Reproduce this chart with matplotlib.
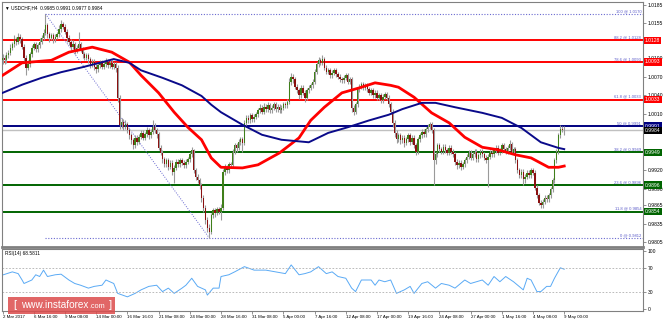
import numpy as np
import matplotlib.pyplot as plt
from matplotlib.patches import Rectangle

plt.rcParams['font.family'] = ['Liberation Sans', 'DejaVu Sans']

# USDCHF H4 candles, prices stored as pips above BASE
BASE = 0.9800
open0_pips = 296
close_pips = [
    300, 296, 304, 308, 316, 322, 330, 326, 334, 330,
    318, 300, 284, 290, 306, 316, 322, 314, 320, 326,
    332, 340, 352, 338, 332, 336, 330, 334, 338, 346,
    354, 350, 342, 332, 326, 318, 322, 312, 316, 322,
    314, 306, 300, 304, 298, 290, 294, 286, 282, 288,
    292, 286, 290, 294, 288, 292, 286, 290, 284, 236,
    192, 198, 190, 194, 184, 176, 168, 160, 172, 166,
    174, 180, 172, 178, 184, 176, 182, 190, 184, 178,
    156, 148, 138, 130, 136, 126, 132, 118, 124, 134,
    130, 136, 132, 128, 134, 138, 146, 152, 120, 110,
    104, 96, 76, 60, 40, 28, 22, 48, 56, 52,
    58, 54, 60, 118, 124, 120, 130, 128, 150, 160,
    156, 166, 170, 164, 196, 204, 200, 208, 202, 206,
    210, 216, 220, 214, 222, 218, 224, 216, 220, 226,
    218, 222, 216, 220, 226, 224, 230, 262, 270, 266,
    254, 248, 240, 252, 244, 236, 248, 252, 256, 262,
    278, 290, 296, 292, 298, 284, 278, 280, 272, 276,
    280, 274, 270, 266, 264, 268, 272, 262, 266, 220,
    214, 226, 250, 254, 258, 252, 256, 250, 244, 248,
    240, 244, 236, 240, 232, 238, 242, 236, 226, 214,
    196, 180, 170, 176, 168, 172, 164, 170, 176, 166,
    172, 160, 150, 170, 176, 182, 178, 186, 190, 194,
    184, 136, 146, 160, 154, 150, 158, 152, 148, 156,
    150, 146, 134, 128, 132, 126, 130, 136, 142, 148,
    140, 146, 150, 138, 144, 150, 146, 140, 136, 142,
    148, 146, 152, 156, 148, 152, 160, 154, 150, 156,
    162, 150, 154, 136, 120, 112, 118, 106, 110, 116,
    112, 120, 116, 92, 80, 68, 64, 70, 76, 74,
    80, 90, 104, 136, 150, 176, 186, 185, 184,
]
high_pips = [
    306, 304, 310, 312, 322, 326, 336, 334, 340, 338,
    334, 322, 304, 296, 310, 320, 326, 326, 324, 332,
    336, 346, 370, 356, 342, 340, 340, 338, 342, 352,
    360, 358, 354, 346, 336, 330, 328, 326, 320, 341,
    326, 318, 310, 308, 308, 302, 298, 298, 290, 294,
    296, 296, 294, 300, 298, 296, 296, 294, 294, 288,
    240, 204, 202, 200, 198, 188, 180, 172, 176, 176,
    178, 184, 184, 182, 190, 188, 186, 200, 196, 188,
    182, 160, 152, 142, 140, 140, 136, 136, 128, 138,
    138, 140, 140, 136, 138, 142, 150, 157, 154, 124,
    114, 108, 100, 80, 64, 46, 34, 52, 60, 60,
    62, 62, 66, 122, 130, 128, 134, 134, 154, 164,
    164, 170, 174, 174, 200, 208, 208, 212, 212, 210,
    214, 220, 226, 224, 228, 226, 230, 228, 224, 230,
    230, 226, 226, 224, 230, 230, 234, 268, 276, 274,
    270, 258, 252, 256, 256, 248, 252, 256, 260, 266,
    282, 294, 302, 300, 304, 302, 288, 284, 284, 280,
    284, 284, 278, 274, 270, 272, 276, 276, 270, 270,
    224, 230, 254, 258, 262, 262, 260, 260, 254, 252,
    252, 248, 248, 244, 244, 242, 246, 246, 240, 230,
    218, 200, 184, 180, 180, 176, 176, 174, 180, 180,
    176, 176, 164, 174, 180, 186, 186, 190, 194, 198,
    198, 188, 150, 164, 164, 158, 162, 162, 156, 160,
    160, 154, 150, 138, 136, 136, 134, 140, 146, 152,
    152, 150, 154, 154, 148, 154, 154, 150, 144, 146,
    152, 152, 156, 160, 160, 156, 164, 164, 158, 160,
    168, 166, 158, 158, 140, 124, 122, 122, 114, 120,
    120, 124, 124, 120, 96, 84, 72, 74, 80, 80,
    84, 94, 108, 140, 154, 180, 192, 191, 191,
]
low_pips = [
    290, 290, 292, 300, 304, 312, 318, 320, 322, 324,
    314, 294, 272, 280, 286, 302, 312, 310, 310, 316,
    322, 328, 336, 332, 326, 328, 324, 326, 330, 334,
    342, 346, 338, 326, 320, 312, 314, 306, 308, 312,
    310, 300, 296, 296, 292, 284, 286, 280, 276, 278,
    284, 282, 282, 286, 284, 284, 282, 282, 278, 230,
    186, 188, 184, 186, 180, 170, 162, 154, 156, 160,
    162, 170, 168, 168, 174, 170, 172, 178, 180, 172,
    152, 144, 132, 126, 126, 120, 122, 112, 100, 120,
    126, 126, 128, 124, 124, 130, 134, 142, 116, 104,
    100, 90, 70, 54, 34, 22, 12, 18, 44, 46,
    48, 50, 40, 56, 112, 116, 116, 124, 124, 146,
    150, 152, 160, 150, 160, 190, 196, 196, 198, 198,
    202, 206, 212, 210, 210, 214, 214, 212, 212, 216,
    214, 214, 212, 212, 216, 220, 220, 226, 256, 260,
    250, 244, 234, 236, 240, 230, 232, 244, 248, 252,
    258, 274, 286, 288, 288, 280, 274, 274, 268, 268,
    272, 270, 266, 262, 260, 260, 264, 258, 258, 214,
    208, 210, 222, 246, 250, 248, 248, 246, 240, 240,
    236, 236, 232, 232, 228, 228, 234, 232, 222, 210,
    190, 174, 164, 166, 162, 164, 158, 160, 166, 160,
    162, 156, 144, 146, 166, 172, 174, 174, 182, 186,
    180, 97, 130, 142, 150, 146, 146, 148, 144, 144,
    146, 142, 128, 122, 124, 120, 122, 126, 132, 138,
    136, 136, 142, 134, 134, 140, 142, 136, 132, 93,
    138, 142, 142, 148, 144, 144, 148, 150, 146, 146,
    152, 146, 146, 132, 116, 108, 108, 96, 100, 106,
    108, 108, 112, 88, 76, 64, 60, 60, 66, 70,
    70, 76, 86, 100, 132, 146, 172, 181, 177,
]

# moving averages (bar index, pips above BASE)
ma_red_bar = [0, 10, 25, 34, 46, 56, 65, 71, 80, 88, 95, 102, 107, 112, 123, 131, 142,
              152, 158, 165, 174, 183, 191, 199, 203, 211, 220, 229, 237, 246, 254,
              263, 271, 280, 285, 288]
ma_red_pips = [272, 292, 296, 309, 317, 309, 293, 272, 244, 213, 189, 169, 140, 125, 124,
               129, 148, 172, 200, 221, 244, 252, 260, 256, 253, 237, 212, 196, 173, 157,
               153, 145, 140, 125, 125, 127]
ma_blue_bar = [0, 10, 20, 30, 41, 51, 57, 65, 71, 82, 92, 102, 107, 112, 123, 133, 143,
               157, 167, 177, 188, 198, 205, 215, 222, 232, 246, 256, 266, 276, 285, 288]
ma_blue_pips = [244, 257, 268, 277, 285, 293, 298, 292, 280, 268, 256, 239, 225, 213, 193,
                177, 169, 165, 180, 189, 200, 209, 218, 228, 228, 221, 212, 204, 188, 165,
                156, 154]

# RSI(14)
rsi_bar = [0, 5, 8, 10, 11, 15, 17, 19, 21, 23, 27, 30, 34, 37, 40, 44, 47, 51, 53, 57,
           59, 64, 68, 71, 75, 79, 82, 85, 88, 92, 94, 97, 100, 104, 105, 108, 111, 112,
           116, 119, 124, 129, 135, 140, 145, 148, 152, 155, 158, 162, 166, 169, 172,
           176, 179, 181, 184, 189, 191, 193, 196, 199, 202, 206, 209, 211, 215, 218,
           222, 225, 229, 232, 237, 240, 246, 249, 252, 255, 258, 262, 267, 269, 271,
           274, 276, 279, 281, 283, 286, 288]
rsi_val = [58.6, 64, 61, 50, 44, 50, 59, 56, 67, 56, 59, 60, 50, 44, 41, 36, 39, 41, 50,
           44, 27, 21, 27, 33, 39, 41, 30, 36, 27, 36, 41, 53, 39, 33, 24, 36, 36, 56, 59,
           64, 73, 67, 67, 64, 61, 76, 59, 61, 64, 73, 61, 64, 56, 53, 36, 30, 50, 50, 41,
           50, 47, 50, 27, 33, 39, 27, 44, 47, 36, 44, 41, 36, 50, 44, 50, 41, 56, 47, 56,
           47, 33, 53, 50, 30, 30, 39, 39, 53, 71, 68.58]
rsi_label = "RSI(14) 68.5811"

# Fibonacci retracement from the 2 Mar high to the 24 Mar low
fib_pct = [0, 11.8, 23.6, 38.2, 50, 61.8, 78.6, 88.2, 100]
fib_low, fib_high = 0.9812, 1.0170
fib_high_bar, fib_low_bar = 22, 106
level_colors = {88.2: '#ff0000', 78.6: '#ff0000', 61.8: '#ff0000', 50: '#000080',
                38.2: '#006400', 23.6: '#006400', 11.8: '#006400'}

# right-axis ticks that are not hidden by the price boxes
price_ticks = [1.0185, 1.0155, 1.0100, 1.0070, 1.0040, 1.0010,
               0.9920, 0.9890, 0.9865, 0.9835, 0.9805]
date_labels = ["2 Mar 2017", "6 Mar 16:00", "9 Mar 08:00", "14 Mar 00:00", "16 Mar 16:00",
               "21 Mar 08:00", "24 Mar 00:00", "28 Mar 16:00", "31 Mar 08:00",
               "5 Apr 00:00", "7 Apr 16:00", "12 Apr 08:00", "17 Apr 00:00",
               "19 Apr 16:00", "24 Apr 08:00", "27 Apr 00:00", "1 May 16:00",
               "4 May 08:00", "9 May 00:00"]

close = BASE + np.array(close_pips) / 1e4
high = BASE + np.array(high_pips) / 1e4
low = BASE + np.array(low_pips) / 1e4
opn = np.r_[BASE + open0_pips / 1e4, close[:-1]]
bars = np.arange(len(close))

fig = plt.figure(figsize=(6.63, 3.22), dpi=100)
ax = fig.add_axes([2 / 663, 75 / 322, 641 / 663, 245 / 322])
rax = fig.add_axes([2 / 663, 11 / 322, 641 / 663, 62 / 322], sharex=ax)

# candles
up = close >= opn
ax.vlines(bars, low, high, color='#9a9a9a', lw=0.8, zorder=3)
body_lo = np.minimum(opn, close)
body_h = np.maximum(np.abs(close - opn), 0.00004)
ax.bar(bars, body_h, bottom=body_lo, width=0.75,
       color=np.where(up, '#3f7f1a', '#8b1010'), lw=0, zorder=4)

# fib levels and horizontal lines
for pct in fib_pct:
    price = fib_low + pct / 100 * (fib_high - fib_low)
    if pct in level_colors:
        ax.axhline(price, color=level_colors[pct], lw=1.4, zorder=2)
    else:
        ax.hlines(price, fib_high_bar, 330, color='#6a6ad0', lw=0.8, ls=(0, (1, 1.5)), zorder=2)
    ax.text(327.5, price + 0.00012, f"{pct:g} @ {price:.4f}", fontsize=3.0,
            color='#5a5ac8', ha='right', va='bottom', zorder=6)
ax.plot([fib_high_bar, fib_low_bar], [fib_high, fib_low], color='#6a6ad0', lw=0.7,
        ls=(0, (1, 1.5)), zorder=2)

last = close[-1]
ax.axhline(last, color='#c0c0c0', lw=1.0, zorder=2)

# moving averages
ax.plot(ma_red_bar, BASE + np.array(ma_red_pips) / 1e4, color='#ff0000', lw=2.0, zorder=5)
ax.plot(ma_blue_bar, BASE + np.array(ma_blue_pips) / 1e4, color='#0a0a8a', lw=1.4, zorder=5)

ax.set_xlim(-0.3, 328.4)
ax.set_ylim(0.97976, 1.01892)
ax.yaxis.tick_right()
ax.set_yticks(price_ticks)
ax.set_yticklabels([f"{t:.4f}" for t in price_ticks])
ax.tick_params(axis='y', labelsize=3.6, length=2, width=0.6, color='#808080', pad=1.5)
ax.tick_params(axis='x', bottom=False, labelbottom=False)
for s in ax.spines.values():
    s.set_color('#808080')
    s.set_linewidth(0.8)
ax.spines['bottom'].set_linewidth(2)

# price boxes on the right axis
boxes = [(fib_low + p / 100 * (fib_high - fib_low), c) for p, c in level_colors.items()]
boxes.append((last, '#000000'))
for price, c in boxes:
    ax.text(1.003, price, f"{price:.4f}", transform=ax.get_yaxis_transform(), fontsize=3.6,
            color='white', ha='left', va='center', zorder=10, clip_on=False,
            bbox=dict(boxstyle='square,pad=0.25', fc=c, ec='none'))

ax.text(0.004, 0.985, f"\u25bc USDCHF,H4  {opn[-1]:.4f} {high[-1]:.4f} {low[-1]:.4f} {close[-1]:.4f}",
        transform=ax.transAxes, fontsize=3.4, ha='left', va='top')

# RSI panel
rax.plot(rsi_bar, rsi_val, color='#5aaaf5', lw=0.7)
for lvl in (70, 30):
    rax.axhline(lvl, color='#b0b0b0', lw=0.6, ls=(0, (2, 2)))
rax.set_ylim(-3.4, 103.4)
rax.yaxis.tick_right()
rax.set_yticks([100, 70, 30, 0])
rax.tick_params(axis='y', labelsize=3.6, length=2, width=0.6, color='#808080', pad=1.5)
rax.set_xticks(np.arange(len(date_labels)) * 16)
rax.set_xticklabels(date_labels)
rax.tick_params(axis='x', labelsize=3.2, length=2, width=0.6, color='#808080', pad=1)
for lbl in rax.get_xticklabels():
    lbl.set_ha('left')
for s in rax.spines.values():
    s.set_color('#808080')
    s.set_linewidth(0.8)
rax.text(0.004, 0.96, rsi_label, transform=rax.transAxes, fontsize=3.4, ha='left', va='top')

# watermark: pieces placed one after another using their rendered widths
W, H = 663, 322
fig.patches.append(Rectangle((8 / W, 1 - 314 / H), 107 / W, 17 / H, transform=fig.transFigure,
                             fc='#dc4b4b', ec='none', alpha=0.85, zorder=20))
yc = 1 - 305.5 / H
renderer = fig.canvas.get_renderer()
x_px = 13
for txt, size, gap in [("[", 8, 5), ("www.instaforex", 7.2, 0.5), (".com", 5.2, 4), ("]", 8, 0)]:
    t = fig.text(x_px / W, yc - (0.004 if size < 6 else 0), txt, fontsize=size, color='white',
                 ha='left', va='center', zorder=21)
    x_px += t.get_window_extent(renderer).width + gap

fig.savefig('out.png', dpi=100)
